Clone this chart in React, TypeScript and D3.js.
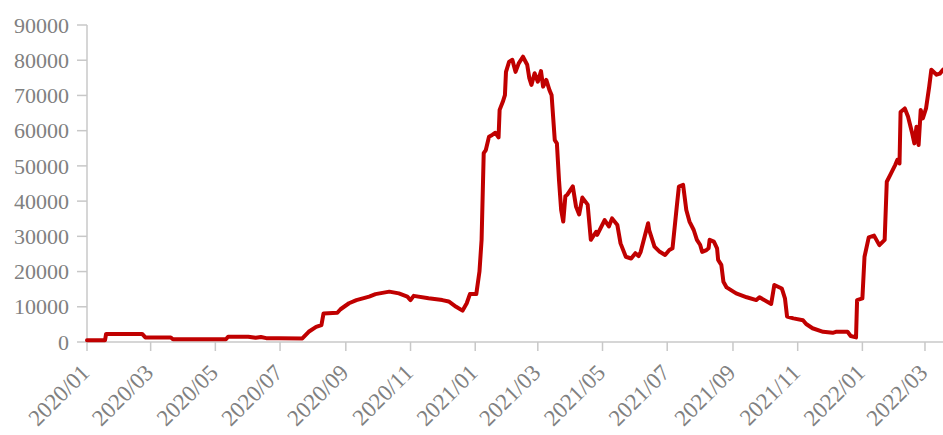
import React from "react";
import * as d3 from "d3";

const dates: string[] = [
  "2020-01-01","2020-01-18","2020-01-19","2020-02-22","2020-02-25","2020-03-20","2020-03-22","2020-05-11",
  "2020-05-13","2020-06-01","2020-06-08","2020-06-13","2020-06-18","2020-06-30","2020-07-22","2020-07-28",
  "2020-08-04","2020-08-09","2020-08-11","2020-08-24","2020-08-27","2020-09-04","2020-09-11","2020-09-23",
  "2020-09-29","2020-10-12","2020-10-21","2020-10-29","2020-11-01","2020-11-04","2020-11-18","2020-12-01",
  "2020-12-07","2020-12-14","2020-12-20","2020-12-24","2020-12-27","2021-01-02","2021-01-05","2021-01-07",
  "2021-01-09","2021-01-11","2021-01-14","2021-01-17","2021-01-20","2021-01-23","2021-01-24","2021-01-27",
  "2021-01-29","2021-01-30","2021-02-02","2021-02-05","2021-02-08","2021-02-11","2021-02-15","2021-02-19",
  "2021-02-21","2021-02-23","2021-02-26","2021-03-01","2021-03-04","2021-03-06","2021-03-09","2021-03-12",
  "2021-03-14","2021-03-17","2021-03-19","2021-03-21","2021-03-23","2021-03-25","2021-03-27","2021-03-29",
  "2021-04-03","2021-04-06","2021-04-09","2021-04-12","2021-04-17","2021-04-20","2021-04-25","2021-04-26",
  "2021-05-03","2021-05-07","2021-05-10","2021-05-15","2021-05-18","2021-05-23","2021-05-28","2021-06-01",
  "2021-06-04","2021-06-06","2021-06-13","2021-06-14","2021-06-19","2021-06-24","2021-06-29","2021-07-03",
  "2021-07-06","2021-07-10","2021-07-12","2021-07-16","2021-07-19","2021-07-22","2021-07-26","2021-07-29",
  "2021-08-01","2021-08-03","2021-08-07","2021-08-09","2021-08-10","2021-08-14","2021-08-17","2021-08-18",
  "2021-08-21","2021-08-23","2021-08-26","2021-09-04","2021-09-14","2021-09-23","2021-09-26","2021-10-07",
  "2021-10-10","2021-10-17","2021-10-18","2021-10-20","2021-10-22","2021-10-28","2021-11-06","2021-11-09",
  "2021-11-15","2021-11-25","2021-12-04","2021-12-07","2021-12-18","2021-12-21","2021-12-26","2021-12-27",
  "2022-01-01","2022-01-03","2022-01-07","2022-01-12","2022-01-17","2022-01-22","2022-01-24","2022-01-28",
  "2022-02-01","2022-02-03","2022-02-05","2022-02-06","2022-02-10","2022-02-13","2022-02-17","2022-02-19",
  "2022-02-21","2022-02-23","2022-02-25","2022-02-27","2022-03-02","2022-03-05","2022-03-07","2022-03-12",
  "2022-03-15","2022-03-18"
];

const values: number[] = [
  500,500,2300,2300,1300,1300,800,800,
  1500,1500,1200,1400,1100,1100,1000,2900,
  4300,4800,8100,8300,9300,11000,11900,12900,
  13600,14300,13800,12900,11900,13100,12400,11900,
  11500,10000,8900,11000,13600,13600,20000,29000,
  53600,54500,58300,58800,59400,58100,65900,68200,
  70100,76700,79600,80100,76700,79100,81000,78700,
  74900,73000,76300,73900,76900,72500,74400,71500,
  70100,57300,56400,45900,37500,34200,41400,41900,
  44200,38500,36200,41000,39000,29000,31300,30400,
  34600,32800,35100,33200,28000,24200,23700,25200,
  24400,25600,33700,31800,27100,25600,24700,26100,
  26600,38400,44100,44600,37500,34200,31800,29000,
  27600,25600,26100,26600,29000,28500,26600,23300,
  21900,17100,15500,13800,12700,11900,12700,10800,
  16200,15200,14300,12400,7200,6700,6200,5100,
  3900,2900,2600,2900,2900,1700,1300,11900,
  12400,24200,29700,30200,27500,29000,45500,47900,
  50300,51700,50700,65300,66300,64000,59200,56400,
  61100,55900,65900,63500,66300,72500,77300,75900,
  76200,77300
];

const yTicks: number[] = [0, 10000, 20000, 30000, 40000, 50000, 60000, 70000, 80000, 90000];
const xStart = "2020-01-01";
const xEnd = "2022-03-18";

const W = 943;
const H = 435;
const margin = { left: 87, right: 0, top: 25, bottom: 93 };
const FONT = "'Liberation Serif', 'Times New Roman', serif";
const TEXT = "#808080";
const AXIS = "#c8c8c8";

export default function App() {
  const parse = d3.timeParse("%Y-%m-%d");
  const data = dates.map((d, i) => ({ date: parse(d)!, value: values[i] }));
  const x = d3
    .scaleTime()
    .domain([parse(xStart)!, parse(xEnd)!])
    .range([margin.left, W - margin.right]);
  const y = d3
    .scaleLinear()
    .domain([0, 90000])
    .range([H - margin.bottom, margin.top]);
  const line = d3
    .line<{ date: Date; value: number }>()
    .x((d) => x(d.date))
    .y((d) => y(d.value));
  const xTicks = d3.timeMonth.every(2)!.range(parse(xStart)!, parse(xEnd)!);
  const fmt = d3.timeFormat("%Y/%m");
  const y0 = y(0);

  return (
    <div style={{ position: "absolute", left: 0, top: 0 }}>
      <svg width={W} height={H} style={{ display: "block", background: "#fff" }}>
        <line x1={margin.left} x2={margin.left} y1={y(90000)} y2={y0} stroke={AXIS} strokeWidth={1.5} />
        {yTicks.map((t) => (
          <g key={t}>
            <line x1={margin.left - 10} x2={margin.left} y1={y(t)} y2={y(t)} stroke={AXIS} strokeWidth={1.5} />
            <text
              x={margin.left - 18}
              y={y(t)}
              dy="0.35em"
              textAnchor="end"
              fontFamily={FONT}
              fontSize={22}
              fill={TEXT}
            >
              {t}
            </text>
          </g>
        ))}
        <line x1={margin.left} x2={W} y1={y0} y2={y0} stroke={AXIS} strokeWidth={1.5} />
        {xTicks.map((t) => (
          <g key={t.getTime()}>
            <line x1={x(t)} x2={x(t)} y1={y0} y2={y0 + 9} stroke={AXIS} strokeWidth={1.5} />
            <text
              transform={`translate(${x(t) + 4},${y0 + 32}) rotate(-45)`}
              textAnchor="end"
              fontFamily={FONT}
              fontSize={23}
              fill={TEXT}
            >
              {fmt(t)}
            </text>
          </g>
        ))}
        <path
          d={line(data) ?? ""}
          fill="none"
          stroke="#c00000"
          strokeWidth={4}
          strokeLinejoin="round"
          strokeLinecap="round"
        />
      </svg>
    </div>
  );
}
